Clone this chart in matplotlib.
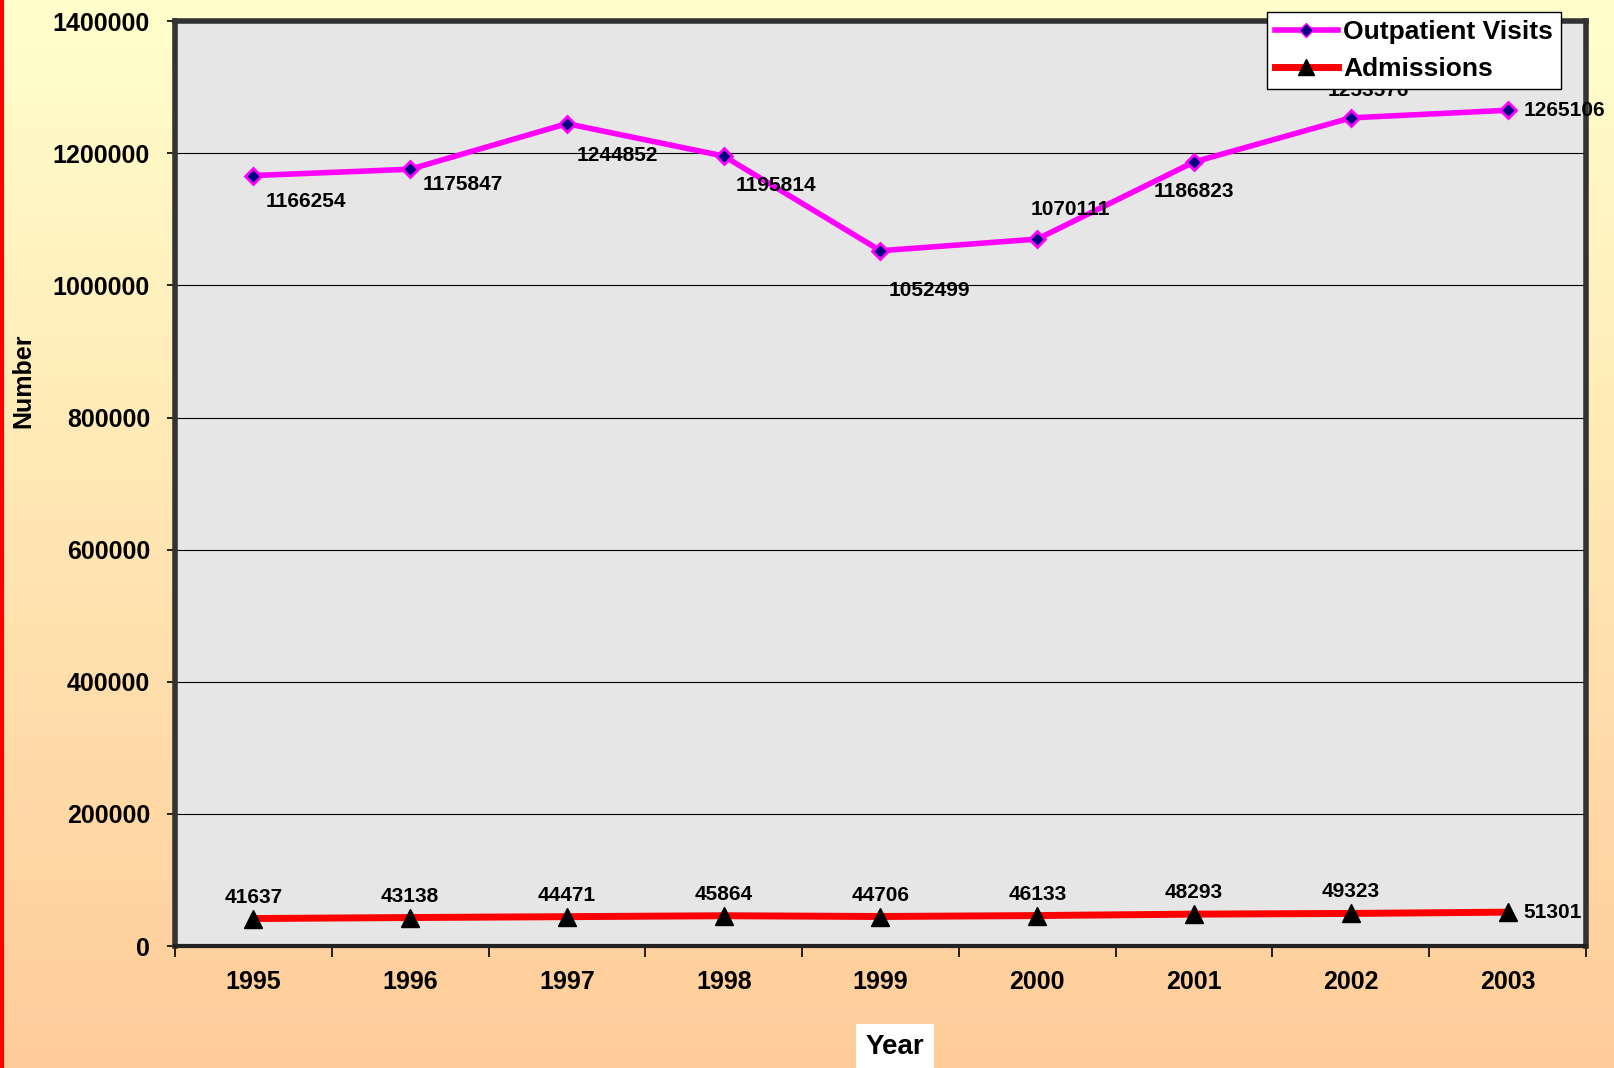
import numpy as np
import matplotlib.pyplot as plt
from matplotlib.lines import Line2D

years = ["1995", "1996", "1997", "1998", "1999", "2000", "2001", "2002", "2003"]
outpatient = [1166254, 1175847, 1244852, 1195814, 1052499, 1070111, 1186823, 1253576, 1265106]
admissions = [41637, 43138, 44471, 45864, 44706, 46133, 48293, 49323, 51301]

# label offsets in pixels (dx, dy, ha, va)
out_offsets = [(12, -16, "left", "top"), (12, -6, "left", "top"), (10, -22, "left", "top"),
               (12, -20, "left", "top"), (8, -30, "left", "top"), (33, 20, "center", "bottom"),
               (0, -20, "center", "top"), (18, 18, "center", "bottom"), (16, 0, "left", "center")]
adm_offsets = [(0, 12, "center", "bottom")] * 8 + [(16, 0, "left", "center")]

plt.rcParams["font.family"] = ["Liberation Sans", "DejaVu Sans"]
plt.rcParams["font.weight"] = "bold"

fig = plt.figure(figsize=(16.15, 10.68), dpi=100)

# background gradient
bg = fig.add_axes([0, 0, 1, 1], zorder=0)
top_c = np.array([255, 255, 204]) / 255
bot_c = np.array([255, 204, 153]) / 255
t = np.linspace(0, 1, 256)[:, None]
grad = top_c[None, :] * (1 - t) + bot_c[None, :] * t
bg.imshow(grad[:, None, :], aspect="auto", extent=[0, 1, 0, 1])
bg.axvline(0.001, color="red", lw=3)
bg.set_xlim(0, 1)
bg.set_ylim(0, 1)
bg.axis("off")

ax = fig.add_axes([0.1084, 0.1142, 0.8736, 0.866], zorder=1)
ax.set_facecolor("#e6e6e6")
x = np.arange(len(years))

ax.plot(x, outpatient, color="#ff00ff", lw=4, marker="D", ms=8,
        markerfacecolor="#000080", markeredgecolor="#ff00ff", markeredgewidth=2, zorder=3)
ax.plot(x, admissions, color="#ff0000", lw=5, marker="^", ms=13,
        markerfacecolor="black", markeredgecolor="black", zorder=3)

for i, v in enumerate(outpatient):
    dx, dy, ha, va = out_offsets[i]
    ax.annotate(str(v), (x[i], v), xytext=(dx, dy), textcoords="offset pixels",
                ha=ha, va=va, fontsize=15, fontweight="bold", zorder=4)
for i, v in enumerate(admissions):
    dx, dy, ha, va = adm_offsets[i]
    ax.annotate(str(v), (x[i], v), xytext=(dx, dy), textcoords="offset pixels",
                ha=ha, va=va, fontsize=15, fontweight="bold", zorder=4)

ax.set_xlim(-0.5, len(years) - 0.5)
ax.set_ylim(0, 1400000)
ax.set_yticks(np.arange(0, 1400001, 200000))
ax.set_yticklabels([str(v) for v in range(0, 1400001, 200000)], fontsize=18, fontweight="bold")
ax.yaxis.grid(True, color="black", lw=0.8)
ax.set_axisbelow(True)
ax.set_xticks(x)
ax.set_xticklabels(years, fontsize=18, fontweight="bold")
ax.set_xticks(np.arange(-0.5, len(years)), minor=True)
ax.tick_params(axis="x", which="major", length=0, pad=17)
ax.tick_params(axis="x", which="minor", length=8, width=1.2, direction="out")
ax.tick_params(axis="y", length=6, width=1.2, direction="out", pad=12)
for s in ["left", "top", "right"]:
    ax.spines[s].set_color("#333333")
    ax.spines[s].set_linewidth(4)
ax.spines["bottom"].set_color("#222222")
ax.spines["bottom"].set_linewidth(3)

fig.text(23 / 1615, 1 - 381 / 1068, "Number", rotation=90, ha="center", va="center",
         fontsize=18, fontweight="bold")
fig.text(895 / 1615, 1 - 1047 / 1068, "Year", ha="center", va="center", fontsize=20,
         fontweight="bold", bbox=dict(facecolor="white", edgecolor="none", pad=7))

handles = [Line2D([], [], color="#ff00ff", lw=4, marker="D", ms=7, markerfacecolor="#000080",
                  markeredgecolor="#ff00ff"),
           Line2D([], [], color="#ff0000", lw=5, marker="^", ms=12, markerfacecolor="black",
                  markeredgecolor="black")]
leg = fig.legend(handles, ["Outpatient Visits", "Admissions"], loc="upper right",
                 bbox_to_anchor=(1561 / 1615, 1 - 12 / 1068), fontsize=19, frameon=True,
                 fancybox=False, edgecolor="black", framealpha=1, borderaxespad=0,
                 handlelength=2.4, handletextpad=0.2, borderpad=0.3, labelspacing=0.5)
leg.get_frame().set_linewidth(1)
leg.set_zorder(5)

plt.savefig("out.png", dpi=100)
